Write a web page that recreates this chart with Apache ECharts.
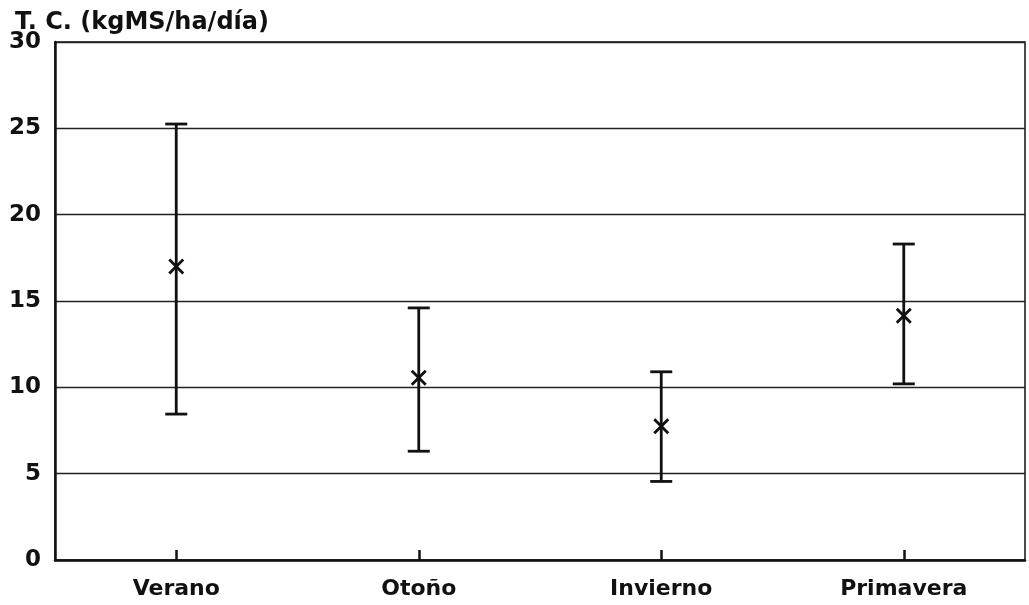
<!DOCTYPE html>
<html><head><meta charset="utf-8">
<script src="https://cdn.jsdelivr.net/npm/echarts@6/dist/echarts.min.js"></script>
<style>html,body{margin:0;padding:0;background:#fff}#c{width:1029px;height:605px}</style>
</head><body><div id="c"></div>
<script>
const categories = ['Verano', 'Otoño', 'Invierno', 'Primavera'];
const meanValues = [17.0, 10.55, 7.75, 14.15];
const lowValues = [8.45, 6.3, 4.55, 10.2];
const highValues = [25.25, 14.6, 10.9, 18.3];
const yTitle = 'T. C. (kgMS/ha/día)';

const data = categories.map((c, i) => [i, meanValues[i], lowValues[i], highValues[i]]);
const font = '"DejaVu Sans", sans-serif';
const chart = echarts.init(document.getElementById('c'));
chart.setOption({
  animation: false,
  backgroundColor: '#fff',
  title: { text: yTitle, left: 10, top: 6, textStyle: { fontFamily: font, fontWeight: 'bold', fontSize: 24, color: '#111' } },
  grid: { left: 55, right: 4, top: 42, bottom: 45, show: true, borderColor: '#111', borderWidth: 1.5 },
  xAxis: {
    type: 'category', data: categories, boundaryGap: true,
    axisLine: { lineStyle: { color: '#111', width: 2.5 } },
    axisTick: { show: true, interval: 0, alignWithLabel: true, inside: true, length: 10, lineStyle: { color: '#111', width: 2.5 } },
    axisLabel: { fontFamily: font, fontWeight: 'bold', fontSize: 22, color: '#111', margin: 18 }
  },
  yAxis: {
    type: 'value', min: 0, max: 30, interval: 5,
    axisLine: { show: true, lineStyle: { color: '#111', width: 2.5 } },
    axisTick: { show: false },
    axisLabel: { fontFamily: font, fontWeight: 'bold', fontSize: 23, color: '#111', margin: 14 },
    splitLine: { lineStyle: { color: '#222', width: 1.3 } }
  },
  series: [{
    type: 'custom',
    data: data,
    z: 5,
    renderItem: function (params, api) {
      const x = api.value(0);
      const m = api.coord([x, api.value(1)]);
      const lo = api.coord([x, api.value(2)]);
      const hi = api.coord([x, api.value(3)]);
      const cw = 11, s = 7;
      const st = { stroke: '#111', lineWidth: 2.8, fill: null };
      return {
        type: 'group', children: [
          { type: 'line', shape: { x1: hi[0], y1: hi[1], x2: lo[0], y2: lo[1] }, style: st },
          { type: 'line', shape: { x1: hi[0] - cw, y1: hi[1], x2: hi[0] + cw, y2: hi[1] }, style: st },
          { type: 'line', shape: { x1: lo[0] - cw, y1: lo[1], x2: lo[0] + cw, y2: lo[1] }, style: st },
          { type: 'line', shape: { x1: m[0] - s, y1: m[1] - s, x2: m[0] + s, y2: m[1] + s }, style: st },
          { type: 'line', shape: { x1: m[0] - s, y1: m[1] + s, x2: m[0] + s, y2: m[1] - s }, style: st }
        ]
      };
    }
  }]
});
</script></body></html>
